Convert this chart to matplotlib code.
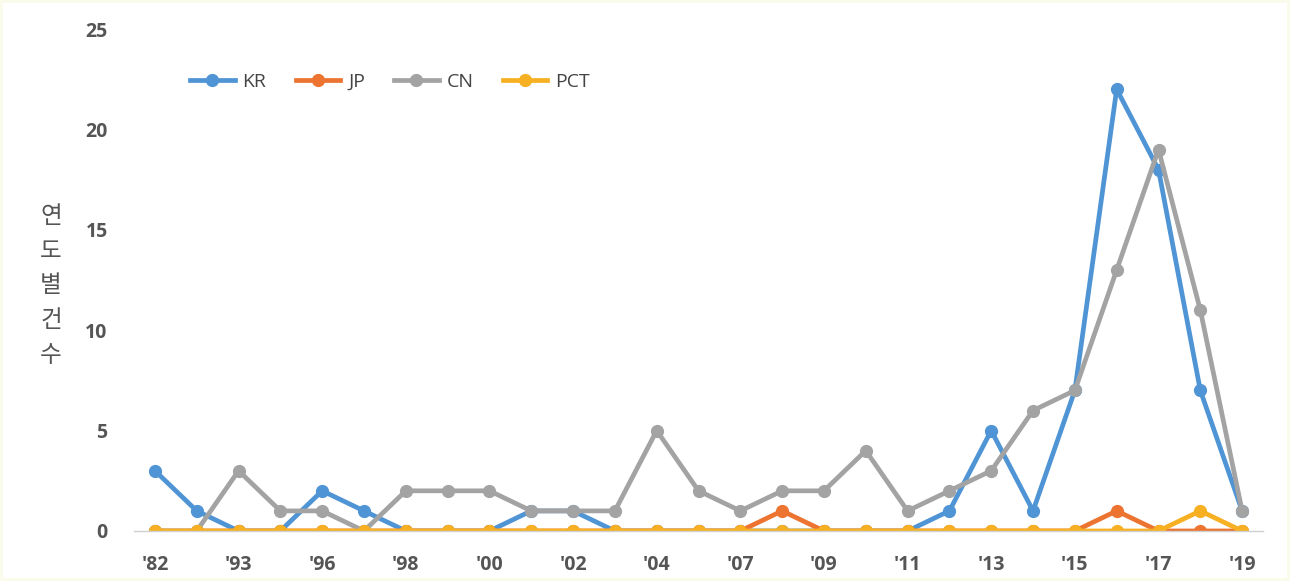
import numpy as np
import matplotlib.pyplot as plt

# yearly counts per office
years = ["'82", "'92", "'93", "'95", "'96", "'97", "'98", "'99", "'00", "'01",
         "'02", "'03", "'04", "'05", "'07", "'08", "'09", "'10", "'11", "'12",
         "'13", "'14", "'15", "'16", "'17", "'18", "'19"]
kr = [3, 1, 0, 0, 2, 1, 0, 0, 0, 1, 1, 0, 0, 0, 0, 0, 0, 0, 0, 1, 5, 1, 7, 22, 18, 7, 1]
jp = [0, 0, 0, 0, 0, 0, 0, 0, 0, 0, 0, 0, 0, 0, 0, 1, 0, 0, 0, 0, 0, 0, 0, 1, 0, 0, 0]
cn = [0, 0, 3, 1, 1, 0, 2, 2, 2, 1, 1, 1, 5, 2, 1, 2, 2, 4, 1, 2, 3, 6, 7, 13, 19, 11, 1]
pct = [0, 0, 0, 0, 0, 0, 0, 0, 0, 0, 0, 0, 0, 0, 0, 0, 0, 0, 0, 0, 0, 0, 0, 0, 0, 1, 0]

series = [('KR', kr, '#4f94d4'), ('JP', jp, '#ec7430'),
          ('CN', cn, '#a3a3a3'), ('PCT', pct, '#f6b022')]

plt.rcParams['font.family'] = ['Open Sans', 'Noto Sans CJK KR', 'DejaVu Sans']

fig = plt.figure(figsize=(12.9, 5.81), dpi=100)
fig.patch.set_edgecolor('#fbfbec')
fig.patch.set_linewidth(4)
ax = fig.add_axes([0.1039, 0.0861, 0.8752, 0.8639])

x = np.arange(len(years))
for name, vals, col in series:
    ax.plot(x, vals, color=col, lw=3.4, marker='o', ms=8.5, label=name,
            solid_joinstyle='round')

ax.set_xlim(-0.5, len(years) - 0.5)
ax.set_ylim(0, 25)
ax.set_yticks(range(0, 26, 5))
ax.set_xticks(x[::2])
ax.set_xticklabels(years[::2])

for s in ['top', 'right', 'left']:
    ax.spines[s].set_visible(False)
ax.spines['bottom'].set_color('#d0d0d0')
ax.spines['bottom'].set_linewidth(1)
ax.tick_params(length=0)
ax.tick_params(axis='y', pad=19)
ax.tick_params(axis='x', pad=17)
for lab in ax.get_xticklabels() + ax.get_yticklabels():
    lab.set_fontweight('bold')
    lab.set_fontsize(14)
    lab.set_color('#555555')
ax.set_zorder(1)
ax.patch.set_visible(False)

# stacked y-axis title
fig.text(0.0395, 0.508, '\n'.join('연도별건수'), ha='center', va='center',
         fontsize=17, color='#555555', linespacing=1.65,
         family=['Noto Sans CJK KR', 'DejaVu Sans'])

ax.legend(loc='center left', bbox_to_anchor=(190 / 1290, 1 - 82 / 581),
          bbox_transform=fig.transFigure, ncol=4, frameon=False,
          borderpad=0, borderaxespad=0, fontsize=14, handlelength=2.3,
          columnspacing=1.5, handletextpad=0.4, labelcolor='#444444')

fig.savefig('out.png', dpi=100, facecolor='white', edgecolor=fig.get_edgecolor())
